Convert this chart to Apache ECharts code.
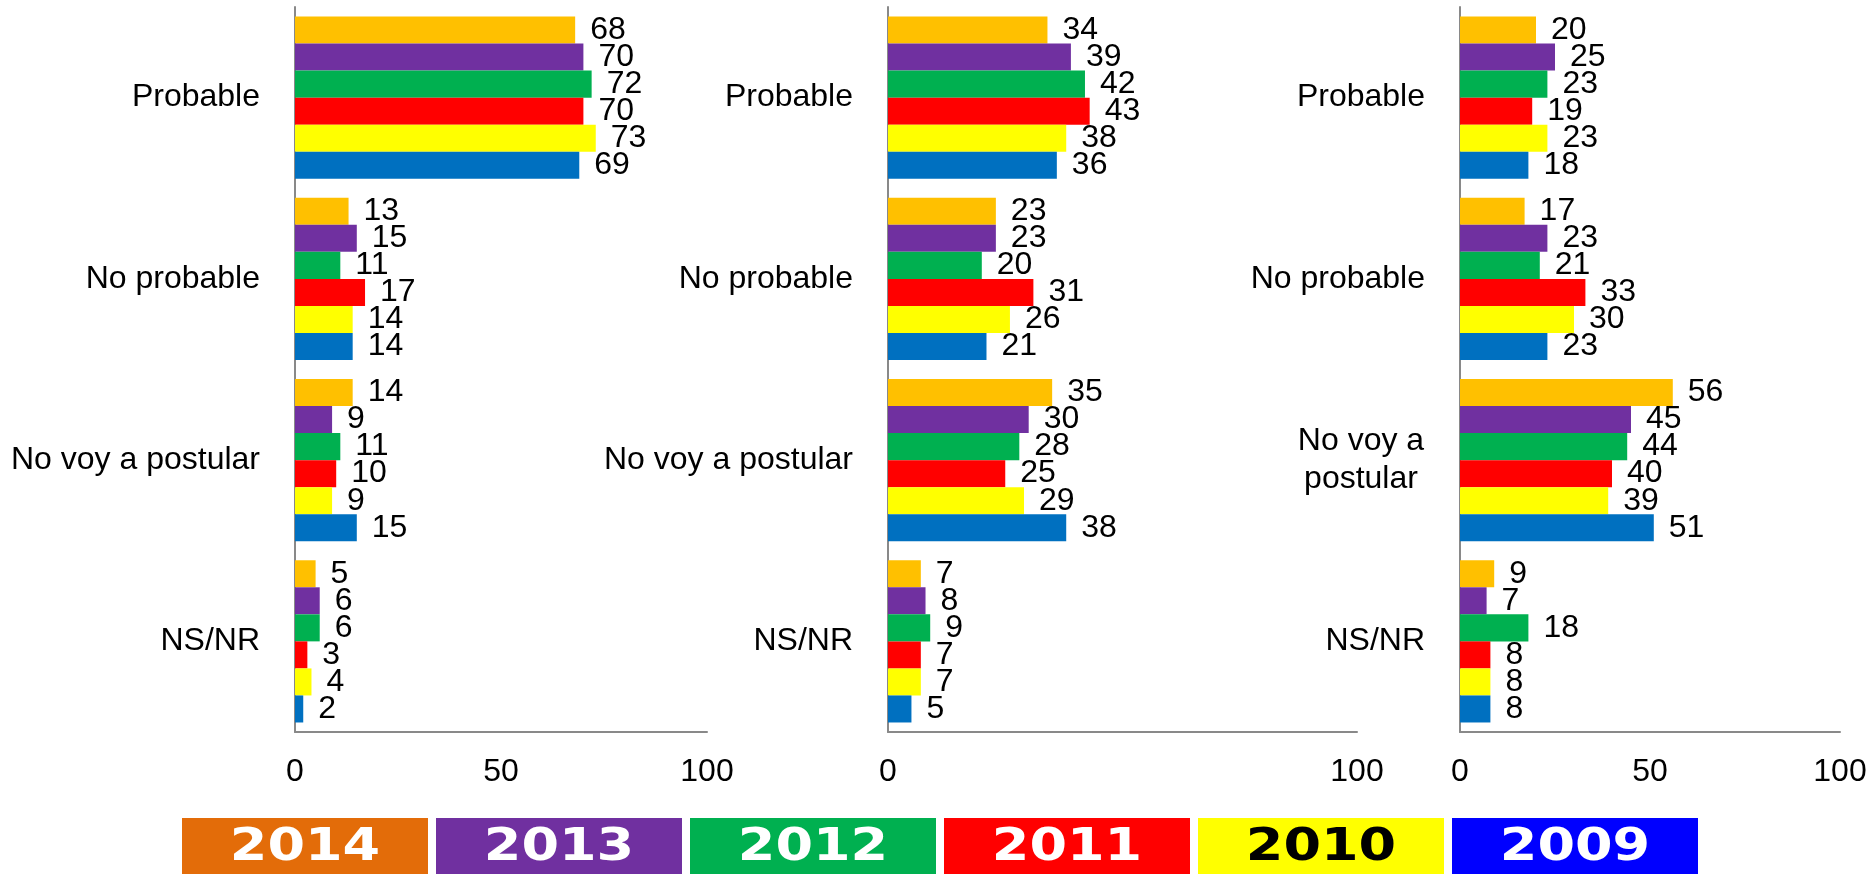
<!DOCTYPE html>
<html>
<head>
<meta charset="utf-8">
<script src="https://cdn.jsdelivr.net/npm/echarts@6/dist/echarts.min.js"></script>
<style>
  html, body { margin: 0; padding: 0; background: #fff; }
  #chart { width: 1874px; height: 874px; }
</style>
</head>
<body>
<div id="chart"></div>
<script>
// ---- Data ----
const categories = ['Probable', 'No probable', 'No voy a postular', 'NS/NR'];
const years = ['2014', '2013', '2012', '2011', '2010', '2009'];
const barColors = ['#FFC000', '#7030A0', '#00B050', '#FF0000', '#FFFF00', '#0070C0'];
const legendColors = ['#E36C09', '#7030A0', '#00B050', '#FF0000', '#FFFF00', '#0000FF'];
const legendTextColors = ['#FFFFFF', '#FFFFFF', '#FFFFFF', '#FFFFFF', '#000000', '#FFFFFF'];

// values per year (order of categories), panel 1
const panel1 = [
  [68, 13, 14, 5],  // 2014
  [70, 15, 9, 6],   // 2013
  [72, 11, 11, 6],  // 2012
  [70, 17, 10, 3],  // 2011
  [73, 14, 9, 4],   // 2010
  [69, 14, 15, 2]   // 2009
];
// panel 2
const panel2 = [
  [34, 23, 35, 7],
  [39, 23, 30, 8],
  [42, 20, 28, 9],
  [43, 31, 25, 7],
  [38, 26, 29, 7],
  [36, 21, 38, 5]
];
// panel 3
const panel3 = [
  [20, 17, 56, 9],
  [25, 23, 45, 7],
  [23, 21, 44, 18],
  [19, 33, 40, 8],
  [23, 30, 39, 8],
  [18, 23, 51, 8]
];
const axisMax = [100, 100, 100];
const axisInterval = [50, 100, 50];

// ---- Layout ----
const FONT = 'Liberation Sans, Arial, sans-serif';
const FS = 32;
const grids = [
  { left: 295, width: 412, top: 7, height: 725 },
  { left: 888, width: 469, top: 7, height: 725 },
  { left: 1460, width: 380, top: 7, height: 725 }
];
const panels = [panel1, panel2, panel3];

const chart = echarts.init(document.getElementById('chart'), null, { renderer: 'canvas' });

const xAxes = [], yAxes = [], series = [];
grids.forEach((g, i) => {
  xAxes.push({
    type: 'value', gridIndex: i, min: 0, max: axisMax[i], interval: axisInterval[i],
    axisLine: { show: true, lineStyle: { color: '#898989', width: 2 } },
    axisTick: { show: false },
    splitLine: { show: false },
    axisLabel: { fontSize: FS, color: '#000', fontFamily: FONT, margin: 24 }
  });
  yAxes.push({
    type: 'category', gridIndex: i, inverse: true, data: categories,
    axisLine: { show: true, lineStyle: { color: '#898989', width: 2 } },
    axisTick: { show: false },
    splitLine: { show: false },
    axisLabel: {
      fontSize: FS, color: '#000', fontFamily: FONT, margin: 35,
      formatter: (v) => (i === 2 && v === 'No voy a postular') ? '{c|No voy a}\n{c|postular}' : v,
      rich: { c: { fontSize: FS, fontFamily: FONT, color: '#000', width: 128, align: 'center', lineHeight: 38 } }
    }
  });
  panels[i].forEach((vals, s) => {
    series.push({
      type: 'bar', name: years[s], xAxisIndex: i, yAxisIndex: i,
      data: vals,
      barGap: '0%', barCategoryGap: '10.5%',
      itemStyle: { color: barColors[s] },
      label: { show: true, position: 'right', distance: 15, fontSize: FS, color: '#000', fontFamily: FONT },
      animation: false
    });
  });
});

// Legend boxes drawn as graphics
const legendLeft = 182, legendTop = 818, boxW = 246, boxH = 56, boxGap = 8;
const graphics = [];
years.forEach((y, k) => {
  const x = legendLeft + k * (boxW + boxGap);
  graphics.push({ type: 'rect', left: x, top: legendTop, shape: { width: boxW, height: boxH }, style: { fill: legendColors[k] } });
  graphics.push({
    type: 'text', x: x + boxW / 2, y: legendTop + boxH / 2 + 2, scaleX: 1.2,
    style: { text: y, fill: legendTextColors[k], font: 'bold 45px "DejaVu Sans", sans-serif', align: 'center', verticalAlign: 'middle' }
  });
});

chart.setOption({
  animation: false,
  grid: grids,
  xAxis: xAxes,
  yAxis: yAxes,
  series: series,
  graphic: graphics
});
</script>
</body>
</html>
